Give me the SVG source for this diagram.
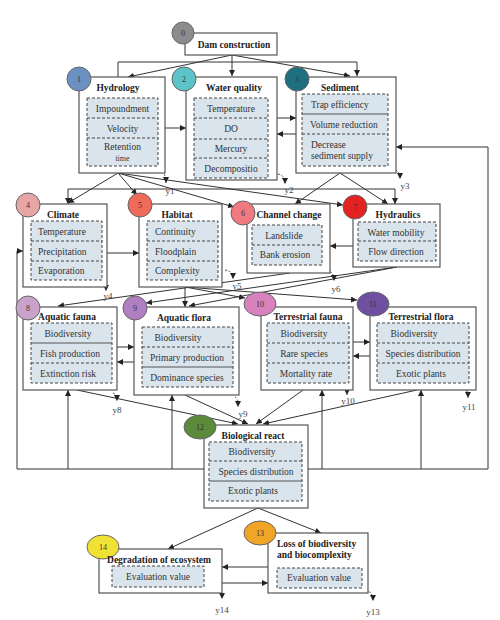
<svg xmlns="http://www.w3.org/2000/svg" width="500" height="620" viewBox="0 0 500 620">
<defs>
<marker id="ah" viewBox="0 0 10 10" refX="10" refY="5" markerWidth="6" markerHeight="6" orient="auto" markerUnits="userSpaceOnUse">
<path d="M0,0 L10,5 L0,10 z" fill="#222"/>
</marker>
<style>
.box{fill:#fff;stroke:#555;stroke-width:1.2}
.pnl{fill:#d9e4ec;stroke:#444;stroke-width:1;stroke-dasharray:3,2}
.sep{stroke:#444;stroke-width:1;stroke-dasharray:3,2}
.sol{stroke:#555;stroke-width:1}
.ln{fill:none;stroke:#333;stroke-width:1}
.arr{fill:none;stroke:#333;stroke-width:1;marker-end:url(#ah)}
.yd{fill:none;stroke:#333;stroke-width:0.9;stroke-dasharray:2,1.5;marker-end:url(#ah)}
.t{font-family:"Liberation Serif",serif;font-weight:bold;font-size:9.5px;fill:#222;text-anchor:middle}
.i{font-family:"Liberation Serif",serif;font-size:9.5px;fill:#333;text-anchor:middle}
.il{font-family:"Liberation Serif",serif;font-size:9.5px;fill:#333}
.y{font-family:"Liberation Serif",serif;font-size:9px;fill:#444;text-anchor:middle}
.n{font-family:"Liberation Serif",serif;font-size:8px;fill:#333;text-anchor:middle}
.c{stroke:#666;stroke-width:1}
</style>
</defs>
<rect width="500" height="620" fill="#fff"/>

<g id="connectors">
<!-- from dam -->
<line class="ln" x1="118" y1="62" x2="357" y2="62"/>
<line class="ln" x1="118" y1="62" x2="118" y2="77"/>
<line class="arr" x1="357" y1="62" x2="357" y2="76"/>
<line class="arr" x1="232" y1="55" x2="232" y2="76"/>
<line class="arr" x1="232" y1="55" x2="128" y2="77"/>
<line class="arr" x1="232" y1="55" x2="350" y2="76"/>
<!-- row 1 sideways -->
<line class="arr" x1="165" y1="128" x2="186" y2="128"/>
<line class="arr" x1="277" y1="118" x2="296" y2="118"/>
<line class="arr" x1="296" y1="134" x2="277" y2="134"/>
<!-- feedback loops -->
<polyline class="arr" points="488,469 488,147 396,147"/>
<polyline class="arr" points="17,469 17,251 23,251"/>
<line class="ln" x1="17" y1="469" x2="204" y2="469"/>
<line class="ln" x1="308" y1="469" x2="488" y2="469"/>
<line class="arr" x1="68" y1="469" x2="68" y2="390"/>
<line class="arr" x1="172" y1="469" x2="172" y2="395"/>
<line class="arr" x1="322" y1="469" x2="322" y2="390"/>
<line class="arr" x1="421" y1="469" x2="421" y2="390"/>
<!-- row 1 to row 2 -->
<line class="ln" x1="68" y1="189" x2="395" y2="189"/>
<line class="arr" x1="68" y1="189" x2="68" y2="204"/>
<line class="arr" x1="395" y1="189" x2="395" y2="204"/>
<line class="arr" x1="118" y1="173" x2="68" y2="203"/>
<line class="arr" x1="118" y1="173" x2="137" y2="195"/>
<line class="arr" x1="118" y1="173" x2="234" y2="207"/>
<line class="arr" x1="118" y1="173" x2="343" y2="205"/>
<line class="arr" x1="340" y1="173" x2="295" y2="204"/>
<line class="arr" x1="340" y1="173" x2="388" y2="204"/>
<!-- row 2 sideways -->
<line class="arr" x1="107" y1="253" x2="139" y2="253"/>
<line class="arr" x1="353" y1="246" x2="330" y2="246"/>
<!-- row 2 to row 3 -->
<line class="arr" x1="185" y1="287" x2="185" y2="307"/>
<line class="arr" x1="185" y1="287" x2="245" y2="298"/>
<line class="arr" x1="185" y1="287" x2="357" y2="300"/>
<line class="arr" x1="290" y1="273" x2="58" y2="306"/>
<line class="arr" x1="397" y1="267" x2="146" y2="303"/>
<line class="arr" x1="397" y1="267" x2="189" y2="306"/>
<!-- row 3 sideways -->
<line class="arr" x1="117" y1="347" x2="134" y2="347"/>
<line class="arr" x1="134" y1="362" x2="117" y2="362"/>
<line class="arr" x1="353" y1="342" x2="370" y2="342"/>
<line class="arr" x1="370" y1="356" x2="353" y2="356"/>
<!-- row 3 to 12 -->
<line class="arr" x1="77" y1="390" x2="238" y2="424"/>
<line class="arr" x1="185" y1="395" x2="248" y2="424"/>
<line class="arr" x1="303" y1="390" x2="256" y2="424"/>
<line class="arr" x1="417" y1="390" x2="263" y2="424"/>
<!-- 12 to 13/14 -->
<line class="arr" x1="258" y1="508" x2="168" y2="549"/>
<line class="arr" x1="258" y1="508" x2="321" y2="533"/>
<line class="arr" x1="268" y1="567" x2="222" y2="567"/>
<line class="arr" x1="222" y1="583" x2="268" y2="583"/>
<!-- y outputs -->
<path class="yd" d="M159,170 Q166,172 166,183"/>
<path class="yd" d="M278,174 Q285,175 285,184"/>
<path class="yd" d="M392,169 Q400,170 400,179"/>
<path class="yd" d="M99,280 Q106,281 106,291"/>
<path class="yd" d="M225,270 Q233,271 233,279"/>
<path class="yd" d="M327,270 Q334,272 334,281"/>
<path class="yd" d="M113,393 Q117,394 117,401"/>
<path class="yd" d="M235,397 Q238,398 238,407"/>
<path class="yd" d="M343,385 Q347,386 347,395"/>
<path class="yd" d="M464,388 Q468,390 468,398"/>
<path class="yd" d="M215,588 Q222,590 222,599"/>
<path class="yd" d="M366,590 Q373,592 373,601"/>
<text class="y" x="170" y="194">y1</text>
<text class="y" x="289" y="193">y2</text>
<text class="y" x="405" y="189">y3</text>
<text class="y" x="108" y="299">y4</text>
<text class="y" x="237" y="289">y5</text>
<text class="y" x="336" y="292">y6</text>
<text class="y" x="117" y="413">y8</text>
<text class="y" x="243" y="417">y9</text>
<text class="y" x="348" y="404">y10</text>
<text class="y" x="469" y="410">y11</text>
<text class="y" x="222" y="613">y14</text>
<text class="y" x="373" y="615">y13</text>
</g>

<g id="node0">
<rect class="box" x="185" y="33" width="92" height="22"/>
<circle class="c" cx="183" cy="33" r="11" fill="#8c8c8c"/>
<text class="n" x="183" y="36">0</text>
<text class="t" x="234" y="48">Dam construction</text>
</g>

<g id="node1">
<rect class="box" x="79" y="77" width="86" height="96"/>
<rect class="pnl" x="87" y="98" width="71" height="68"/>
<line class="sep" x1="87" y1="118" x2="158" y2="118"/>
<line class="sep" x1="87" y1="138" x2="158" y2="138"/>
<text class="i" x="122.5" y="112">Impoundment</text>
<text class="i" x="122.5" y="132">Velocity</text>
<text class="i" x="122.5" y="150">Retention</text>
<text class="i" x="122.5" y="161" style="font-size:8px">time</text>
<circle class="c" cx="79" cy="79" r="12" fill="#6b90c2"/>
<text class="n" x="79" y="82">1</text>
<text class="t" x="118" y="91">Hydrology</text>
</g>

<g id="node2">
<rect class="box" x="186" y="77" width="91" height="103"/>
<rect class="pnl" x="194" y="98" width="74" height="80"/>
<line class="sep" x1="194" y1="118" x2="268" y2="118"/>
<line class="sep" x1="194" y1="139" x2="268" y2="139"/>
<line class="sep" x1="194" y1="158" x2="268" y2="158"/>
<text class="i" x="231" y="112">Temperature</text>
<text class="i" x="231" y="132">DO</text>
<text class="i" x="231" y="152">Mercury</text>
<text class="i" x="231" y="172">Decompositio</text>
<circle class="c" cx="184" cy="79" r="12" fill="#5cc4c8"/>
<text class="n" x="184" y="82">2</text>
<text class="t" x="234" y="91">Water quality</text>
</g>

<g id="node3">
<rect class="box" x="296" y="77" width="100" height="96"/>
<rect class="pnl" x="302" y="94" width="86" height="72"/>
<line class="sol" x1="302" y1="114" x2="388" y2="114"/>
<line class="sep" x1="302" y1="134" x2="388" y2="134"/>
<text class="il" x="311" y="108">Trap efficiency</text>
<text class="il" x="310" y="128">Volume reduction</text>
<text class="il" x="311" y="148">Decrease</text>
<text class="il" x="311" y="159">sediment supply</text>
<circle class="c" cx="297" cy="79" r="12" fill="#1e7080"/>
<text class="n" x="297" y="82">3</text>
<text class="t" x="340" y="91">Sediment</text>
</g>

<g id="node4">
<rect class="box" x="23" y="204" width="84" height="83"/>
<rect class="pnl" x="31" y="221" width="71" height="59"/>
<line class="sep" x1="31" y1="241" x2="102" y2="241"/>
<line class="sep" x1="31" y1="261" x2="102" y2="261"/>
<text class="il" x="38" y="235">Temperature</text>
<text class="il" x="38" y="255">Precipitation</text>
<text class="il" x="38" y="274">Evaporation</text>
<circle class="c" cx="28" cy="205" r="12" fill="#e8a5a5"/>
<text class="n" x="28" y="208">4</text>
<text class="t" x="63" y="218">Climate</text>
</g>

<g id="node5">
<rect class="box" x="139" y="204" width="83" height="83"/>
<rect class="pnl" x="147" y="221" width="71" height="59"/>
<line class="sep" x1="147" y1="241" x2="218" y2="241"/>
<line class="sep" x1="147" y1="261" x2="218" y2="261"/>
<text class="il" x="155" y="235">Continuity</text>
<text class="il" x="155" y="255">Floodplain</text>
<text class="il" x="155" y="274">Complexity</text>
<circle class="c" cx="140" cy="205" r="12" fill="#f06a5a"/>
<text class="n" x="140" y="208">5</text>
<text class="t" x="177" y="218">Habitat</text>
</g>

<g id="node6">
<rect class="box" x="247" y="204" width="83" height="69"/>
<rect class="pnl" x="252" y="225" width="70" height="40"/>
<line class="sep" x1="252" y1="245" x2="322" y2="245"/>
<text class="i" x="284" y="239">Landslide</text>
<text class="i" x="285" y="258">Bank erosion</text>
<circle class="c" cx="243" cy="213" r="12" fill="#f07a80"/>
<text class="n" x="243" y="216">6</text>
<text class="t" x="289" y="218">Channel change</text>
</g>

<g id="node7">
<rect class="box" x="353" y="204" width="87" height="63"/>
<rect class="pnl" x="358" y="222" width="78" height="39"/>
<line class="sep" x1="358" y1="241" x2="436" y2="241"/>
<text class="i" x="396" y="236">Water mobility</text>
<text class="i" x="396" y="255">Flow direction</text>
<circle class="c" cx="355" cy="207" r="12" fill="#e52222"/>
<text class="n" x="355" y="210">7</text>
<text class="t" x="398" y="218">Hydraulics</text>
</g>

<g id="node8">
<rect class="box" x="23" y="307" width="94" height="83"/>
<rect class="pnl" x="31" y="323" width="81" height="60"/>
<line class="sol" x1="31" y1="343" x2="112" y2="343"/>
<line class="sep" x1="31" y1="363" x2="112" y2="363"/>
<text class="i" x="68" y="337">Biodiversity</text>
<text class="i" x="70" y="357">Fish production</text>
<text class="i" x="68" y="377">Extinction risk</text>
<circle class="c" cx="28" cy="308" r="12" fill="#c9a2cc"/>
<text class="n" x="28" y="311">8</text>
<text class="t" x="67" y="320">Aquatic fauna</text>
</g>

<g id="node9">
<rect class="box" x="134" y="307" width="105" height="88"/>
<rect class="pnl" x="142" y="327" width="91" height="60"/>
<line class="sep" x1="142" y1="347" x2="233" y2="347"/>
<line class="sol" x1="142" y1="367" x2="233" y2="367"/>
<text class="i" x="178" y="341">Biodiversity</text>
<text class="i" x="187" y="361">Primary production</text>
<text class="i" x="187" y="381">Dominance species</text>
<circle class="c" cx="135" cy="308" r="12" fill="#b07fc2"/>
<text class="n" x="135" y="311">9</text>
<text class="t" x="184" y="321">Aquatic flora</text>
</g>

<g id="node10">
<rect class="box" x="261" y="307" width="92" height="83"/>
<rect class="pnl" x="267" y="323" width="82" height="60"/>
<line class="sep" x1="267" y1="343" x2="349" y2="343"/>
<line class="sep" x1="267" y1="363" x2="349" y2="363"/>
<text class="i" x="304" y="337">Biodiversity</text>
<text class="i" x="304" y="357">Rare species</text>
<text class="i" x="306" y="377">Mortality rate</text>
<ellipse class="c" cx="260" cy="304" rx="16" ry="12" fill="#d882bd"/>
<text class="n" x="260" y="307">10</text>
<text class="t" x="308" y="320">Terrestrial fauna</text>
</g>

<g id="node11">
<rect class="box" x="370" y="307" width="106" height="83"/>
<rect class="pnl" x="377" y="323" width="92" height="60"/>
<line class="sep" x1="377" y1="343" x2="469" y2="343"/>
<line class="sep" x1="377" y1="363" x2="469" y2="363"/>
<text class="i" x="414" y="337">Biodiversity</text>
<text class="i" x="423" y="357">Species distribution</text>
<text class="i" x="421" y="377">Exotic plants</text>
<ellipse class="c" cx="373" cy="304" rx="16" ry="12" fill="#6f4fa0"/>
<text class="n" x="373" y="307">11</text>
<text class="t" x="421" y="320">Terrestrial flora</text>
</g>

<g id="node12">
<rect class="box" x="204" y="425" width="104" height="83"/>
<rect class="pnl" x="209" y="442" width="93" height="59"/>
<line class="sep" x1="209" y1="461" x2="302" y2="461"/>
<line class="sol" x1="209" y1="481" x2="302" y2="481"/>
<text class="i" x="252" y="455">Biodiversity</text>
<text class="i" x="256" y="475">Species distribution</text>
<text class="i" x="253" y="494">Exotic plants</text>
<ellipse class="c" cx="200" cy="427" rx="16" ry="12" fill="#5b8a3a"/>
<text class="n" x="200" y="430">12</text>
<text class="t" x="253" y="439">Biological react</text>
</g>

<g id="node13">
<rect class="box" x="268" y="533" width="100" height="60"/>
<rect class="pnl" x="277" y="568" width="85" height="20"/>
<text class="i" x="319" y="581">Evaluation value</text>
<ellipse class="c" cx="260" cy="533" rx="16" ry="12" fill="#f0a428"/>
<text class="n" x="260" y="536">13</text>
<text class="t" x="277" y="547" style="text-anchor:start">Loss of biodiversity</text>
<text class="t" x="277" y="558" style="text-anchor:start">and biocomplexity</text>
</g>

<g id="node14">
<rect class="box" x="99" y="549" width="123" height="44"/>
<rect class="pnl" x="112" y="566" width="92" height="21"/>
<text class="i" x="158" y="580">Evaluation value</text>
<ellipse class="c" cx="103" cy="547" rx="16" ry="12" fill="#f0e234"/>
<text class="n" x="103" y="550">14</text>
<text class="t" x="159" y="563">Degradation of ecosystem</text>
</g>
</svg>
